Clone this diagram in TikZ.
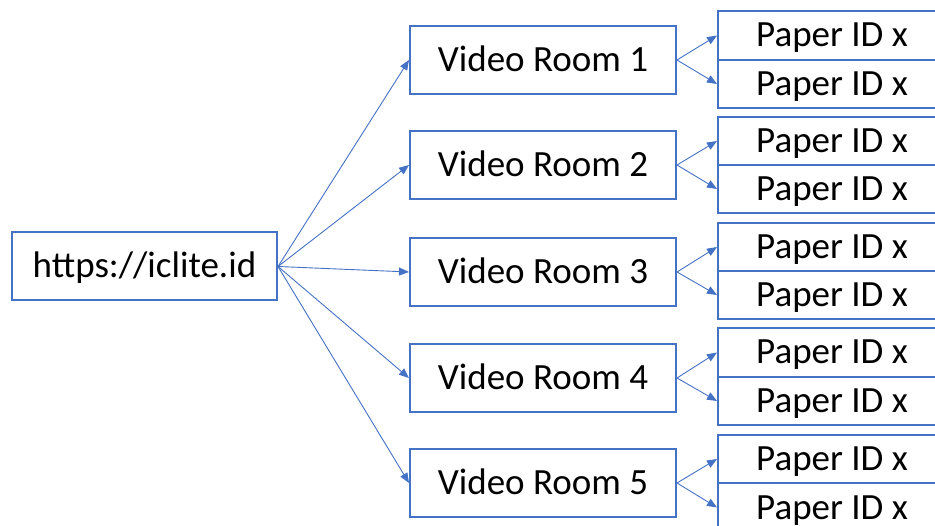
\documentclass[tikz,border=0pt]{standalone}
\usepackage{fontspec}
\setmainfont{Carlito}
\usetikzlibrary{arrows.meta}
\definecolor{obl}{HTML}{4472C4}
\begin{document}
\begin{tikzpicture}[x=1pt,y=-1pt,
  box/.style={draw=obl,line width=2pt,rectangle,inner sep=0pt,fill=white,
    font=\fontsize{37}{40}\selectfont,text height=30pt,text depth=7pt},
  mainbox/.style={box,minimum width=265pt,minimum height=68pt},
  paperbox/.style={box,minimum width=228pt,minimum height=48.5pt},
  conn/.style={draw=obl,line width=0.9pt,-{Triangle[length=10pt,width=8pt]}}]
\useasboundingbox (0,0) rectangle (935,526);
\node[mainbox] (url) at (144.5,266.5) {https://iclite.id};
\foreach \i/\y in {1/60,2/165,3/272,4/378,5/483}{
  \node[mainbox,minimum width=266pt] (r\i) at (543,\y) {Video Room \i};
}
\foreach \i/\ya/\yb in {1/35.5/84,2/141/189,3/247/295,4/352.5/401,5/459/507.5}{
  \node[paperbox] (p\i a) at (832,\ya) {Paper ID x};
  \node[paperbox] (p\i b) at (832,\yb) {Paper ID x};
}
\foreach \i in {1,...,5}{
  \draw[conn] (url.east) -- (r\i.west);
  \draw[conn] (r\i.east) -- (p\i a.west);
  \draw[conn] (r\i.east) -- (p\i b.west);
}
\end{tikzpicture}
\end{document}
